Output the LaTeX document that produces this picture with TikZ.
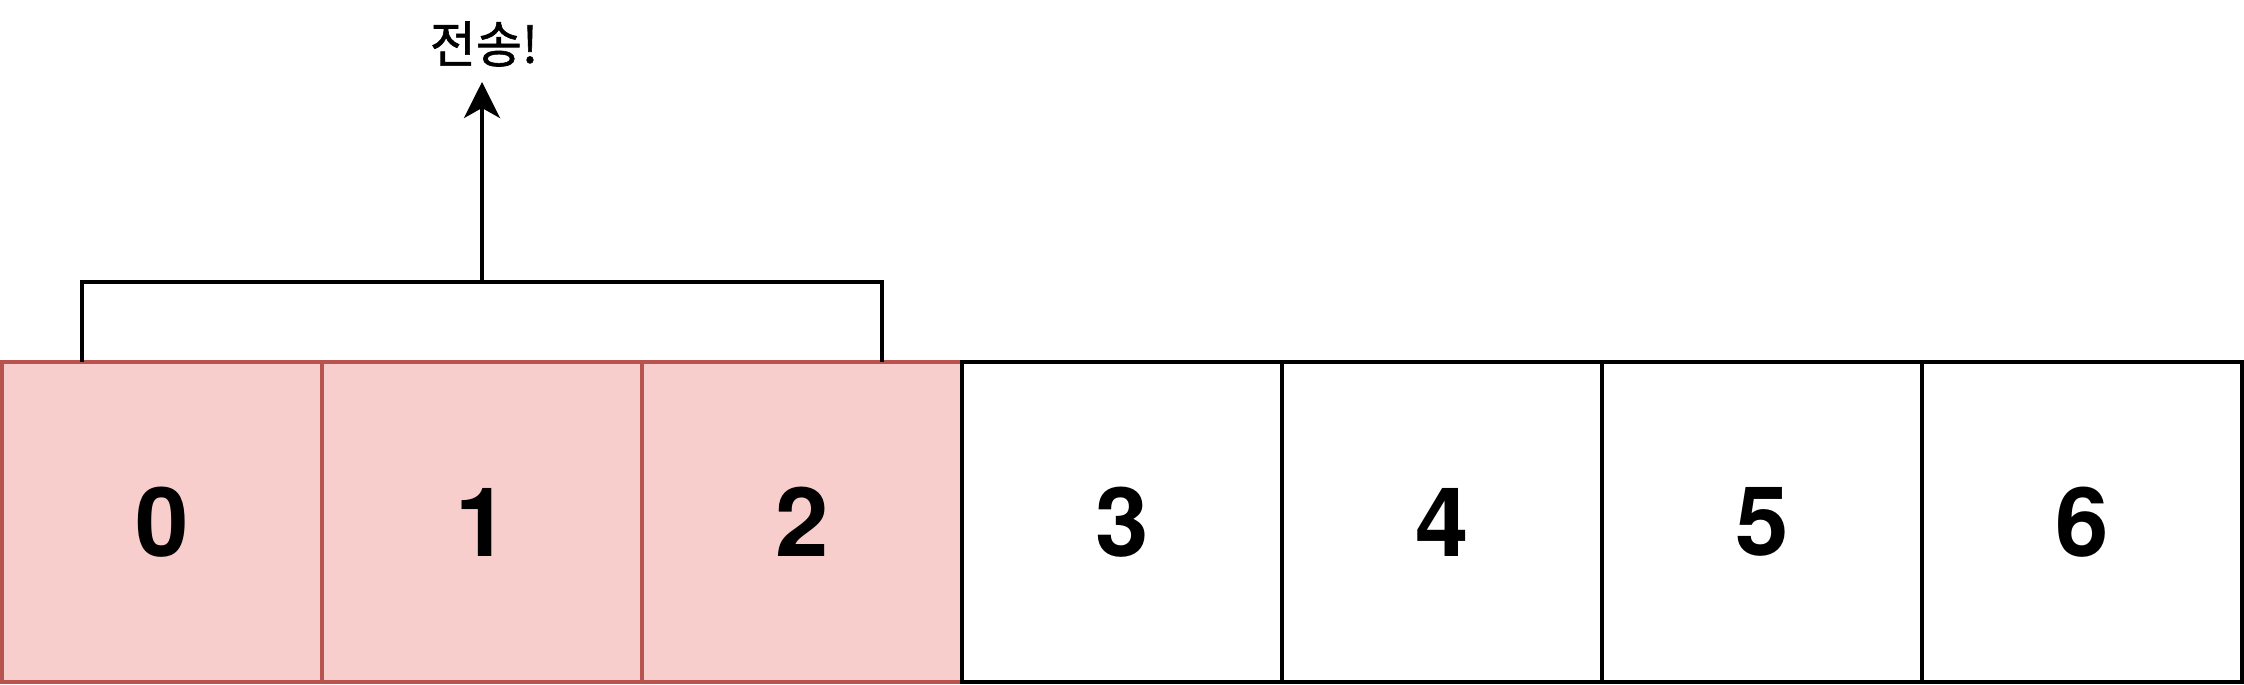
\documentclass[tikz,border=0pt]{standalone}
\usepackage{fontspec}
\setmainfont{TeX Gyre Heros}
\newfontfamily\krfont[FakeBold=1.2]{Noto Sans CJK KR}
\usetikzlibrary{arrows.meta,calc}
\definecolor{redfill}{HTML}{F8CECC}
\definecolor{redline}{HTML}{B85450}
\begin{document}
\begin{tikzpicture}[x=1pt,y=-1pt,
  cellbox/.style={draw,line width=1pt,minimum width=80pt,minimum height=80pt,inner sep=0pt,outer sep=0pt,anchor=north west,font=\fontsize{24}{28}\selectfont\bfseries},
  redcell/.style={cellbox,fill=redfill,draw=redline},
  whitecell/.style={cellbox,fill=white,draw=black},
  conn/.style={draw=black,line width=1pt}]
\useasboundingbox (0,0) rectangle (561,171);
\foreach \i in {0,1,2}{
  \node[redcell] (c\i) at (0.5+80*\i,90.5) {\i};
}
\foreach \i in {3,4,5,6}{
  \node[whitecell] (c\i) at (0.5+80*\i,90.5) {\i};
}
\coordinate (bl) at (20.5,90.5);
\coordinate (br) at (220.5,90.5);
\coordinate (bm) at (120.5,70.5);
\coordinate (tip) at (120.5,20.5);
\node[font=\krfont\fontsize{12.5}{14}\selectfont,inner sep=0pt] (lbl) at (121,11) {전송!};
\draw[conn] (bl) |- (bm) -| (br);
\draw[conn,-{Stealth[length=9pt,width=9pt,inset=2.5pt]}] (bm) -- (tip);
\end{tikzpicture}
\end{document}
